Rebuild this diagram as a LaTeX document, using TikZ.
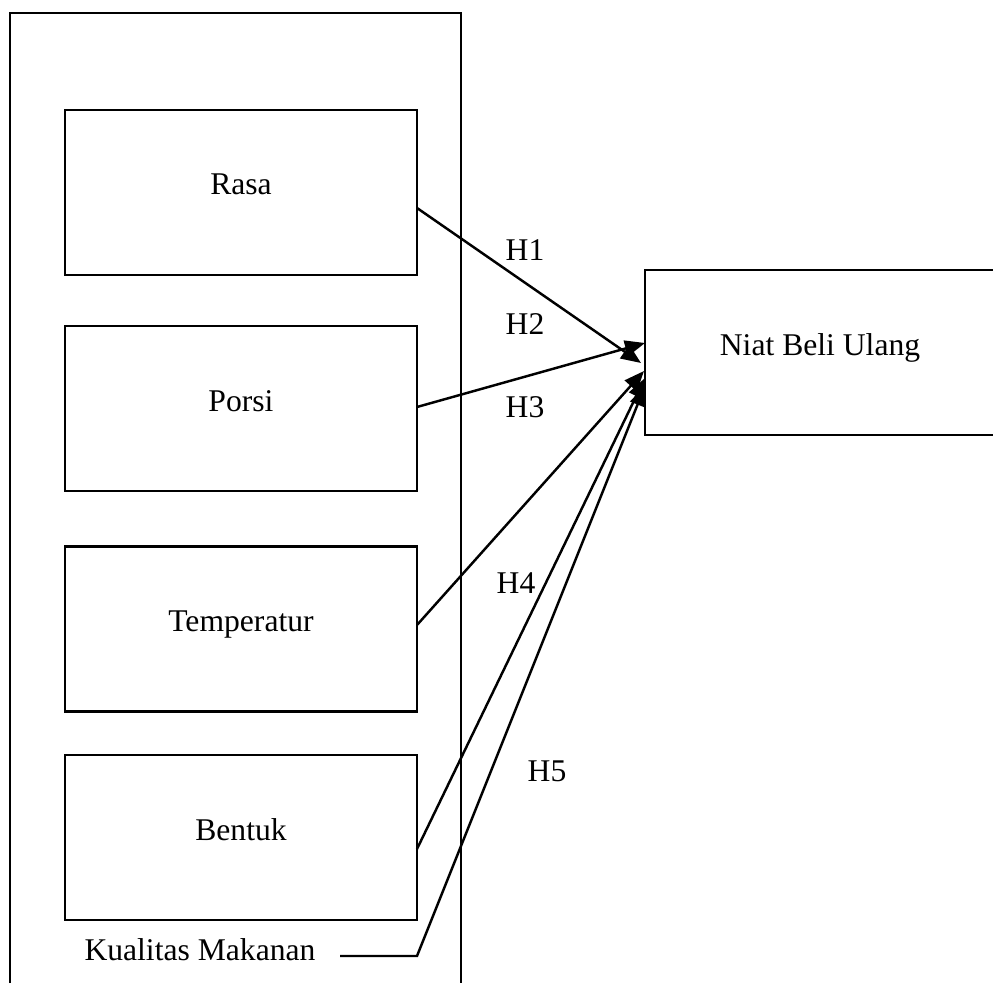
\documentclass[tikz,border=0pt]{standalone}
\usepackage{fontspec}
\setmainfont{Liberation Serif}
\usetikzlibrary{arrows.meta, positioning}

\tikzset{
  varbox/.style={draw, line width=1.4pt, minimum width=7.04cm, minimum height=3.3cm,
    text height=0.5cm, text depth=0.4cm, font=\fontsize{18}{22}\selectfont},
  hyp/.style={font=\fontsize{18}{22}\selectfont},
  path/.style={line width=1.4pt, -{Triangle[length=0.4cm, width=0.32cm]}}
}

\begin{document}
\begin{tikzpicture}[x=0.02cm, y=-0.02cm, line join=miter]

% page frame
\useasboundingbox (0,0) rectangle (993,983);

% outer frame (open at the bottom)
\draw[line width=1.4pt] (10,983) -- (10,13) -- (461,13) -- (461,983);

% independent variables
\node[varbox] (rasa)  at (241,192.5) {Rasa};
\node[varbox] (porsi) at (241,408.5) {Porsi};
\node[varbox] (temp)  at (241,629)   {Temperatur};
\node[varbox] (bentuk) at (241,837.5) {Bentuk};
\node[hyp] (kualitas) at (200,950) {Kualitas Makanan};

% dependent variable (cut by the page edge)
\begin{scope}
  \clip (0,0) rectangle (993,983);
  \node[varbox, minimum width=7cm] (niat) at (820,352.5) {Niat Beli Ulang};
\end{scope}

% start and end points of the paths
\coordinate (s1) at (417,208);
\coordinate (s2) at (417,407);
\coordinate (s3) at (417,625);
\coordinate (s4) at (417,849);
\coordinate (k1) at (340,956);
\coordinate (k2) at (417,956);
\coordinate (e1) at (641,363);
\coordinate (e2) at (645,343);
\coordinate (e3) at (644,371);
\coordinate (e4) at (645,378);
\coordinate (e5) at (645,386);

% paths H1..H5
\draw[path] (s1) -- (e1);
\draw[path] (s2) -- (e2);
\draw[path] (s3) -- (e3);
\draw[path] (s4) -- (e4);
\draw[path] (k1) -- (k2) -- (e5);

% hypothesis labels
\node[hyp] (h1) at (525,250) {H1};
\node[hyp] (h2) at (525,324) {H2};
\node[hyp] (h3) at (525,407) {H3};
\node[hyp] (h4) at (516,583) {H4};
\node[hyp] (h5) at (547,771) {H5};

\end{tikzpicture}
\end{document}
